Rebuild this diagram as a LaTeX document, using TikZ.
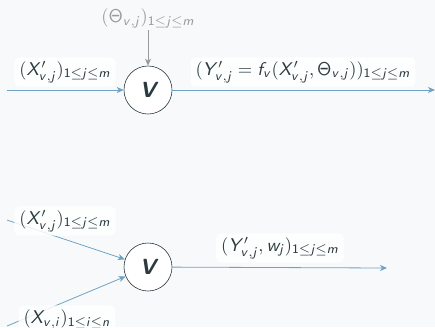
\documentclass[tikz,border=0pt]{standalone}
\usetikzlibrary{arrows.meta}
\DeclareMathAlphabet{\msf}{OT1}{cmss}{m}{sl}
\DeclareMathAlphabet{\msfu}{OT1}{cmss}{m}{n}
\newcommand{\lbl}[1]{\scalebox{1.85}{$#1$}}
\newcommand{\rng}[1]{\msfu{1}\leq \msf{#1}\leq}
\definecolor{bgc}{HTML}{F8F9FA}
\definecolor{edgec}{HTML}{6FA3C3}
\definecolor{txtc}{HTML}{2B3A40}
\definecolor{greyc}{HTML}{9A9A9A}
\tikzset{
  vnode/.style={circle,draw=txtc,fill=white,line width=0.6bp,minimum size=48bp,inner sep=0pt,text=txtc},
  lab/.style={fill=white,fill opacity=0.85,text opacity=1,rounded corners=5bp,text=txtc,inner xsep=5bp,inner ysep=4bp},
  glab/.style={text=greyc,inner sep=2bp},
  conn/.style={draw=edgec,line width=0.8bp,-{Stealth[length=7bp,width=6bp,inset=2bp]}},
  gconn/.style={draw=greyc,line width=0.8bp,-{Stealth[length=7bp,width=6bp,inset=2bp]}}
}
\begin{document}
\begin{tikzpicture}[x=1bp,y=-1bp]
\fill[bgc] (0,0) rectangle (435,327);
\useasboundingbox (0,0) rectangle (435,327);
% top
\node[vnode] (v1) at (148,90) {\scalebox{2.2}{\sffamily\bfseries\itshape V}};
\node[glab] (th) at (148,18) {\lbl{(\msfu{\Theta}_{\msf{v,j}})_{\rng{j}\msf{m}}}};
\coordinate (in1) at (7,90);
\coordinate (out1) at (435,90);
\draw[conn] (in1) -- (v1);
\draw[conn] (v1) -- (out1);
\draw[gconn] (th) -- (v1);
\node[lab] (xl) at (65,72) {\lbl{(\msf{X}'_{\msf{v,j}})_{\rng{j}\msf{m}}}};
\node[lab] (yl) at (303,72) {\lbl{(\msf{Y}'_{\msf{v,j}}=\msf{f}_{\msf{v}}(\msf{X}'_{\msf{v,j}},\msfu{\Theta}_{\msf{v,j}}))_{\rng{j}\msf{m}}}};
% bottom
\node[vnode] (v2) at (148,267) {\scalebox{2.2}{\sffamily\bfseries\itshape V}};
\coordinate (in2) at (7,220);
\coordinate (in3) at (7,326);
\coordinate (out2) at (387,268);
\draw[conn] (in2) -- (v2);
\draw[conn] (in3) -- (v2);
\draw[conn] (v2) -- (out2);
\node[lab] (xl2) at (65,221) {\lbl{(\msf{X}'_{\msf{v,j}})_{\rng{j}\msf{m}}}};
\node[lab] (xl3) at (67,319) {\lbl{(\msf{X}_{\msf{v,i}})_{\rng{i}\msf{n}}}};
\node[lab] (yl2) at (280,248) {\lbl{(\msf{Y}'_{\msf{v,j}},\msf{w}_{\msf{j}})_{\rng{j}\msf{m}}}};
\end{tikzpicture}
\end{document}
